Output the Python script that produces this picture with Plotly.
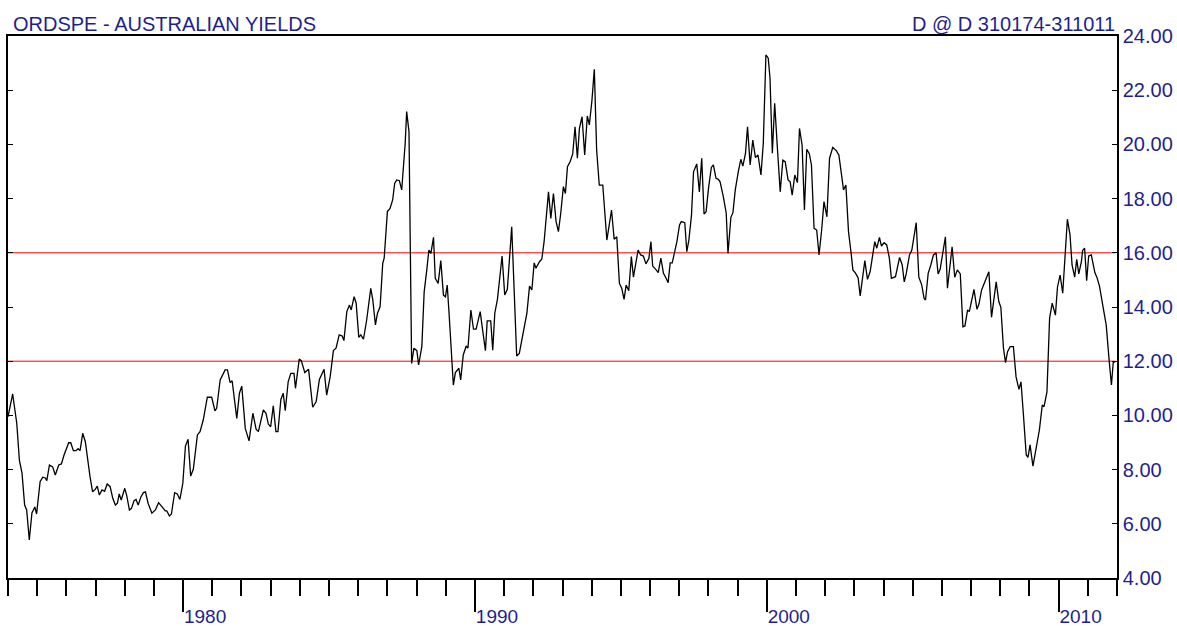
import plotly.graph_objects as go

# ---- data (decimal years, yield %) ----
dates_74_80 = [1974.00,1974.16,1974.30,1974.39,1974.48,1974.57,1974.64,1974.73,1974.82,1974.92,
 1974.98,1975.10,1975.19,1975.28,1975.33,1975.42,1975.53,1975.62,1975.74,1975.83,
 1975.92,1976.01,1976.08,1976.15,1976.24,1976.33,1976.40,1976.47,1976.56,1976.65,
 1976.74,1976.81,1976.90,1976.99,1977.06,1977.13,1977.22,1977.31,1977.40,1977.50,
 1977.59,1977.68,1977.75,1977.81,1977.88,1978.00,1978.07,1978.16,1978.23,1978.32,
 1978.39,1978.46,1978.55,1978.64,1978.71,1978.80,1978.93,1979.05,1979.16,1979.28,
 1979.39,1979.44,1979.53,1979.60,1979.71,1979.80,1979.89,1979.99,1980.08,1980.17,
 1980.26,1980.35,1980.49,1980.58]
yields_74_80 = [9.95,10.79,9.71,8.35,7.87,6.69,6.51,5.40,6.40,6.62,
 6.36,7.55,7.72,7.69,7.59,8.17,8.10,7.80,8.17,8.21,
 8.54,8.76,8.99,8.99,8.70,8.70,8.77,8.70,9.34,9.03,
 8.17,7.74,7.18,7.27,7.39,7.06,7.25,7.20,7.47,7.37,
 6.94,6.69,6.76,7.10,6.88,7.31,7.03,6.51,6.57,6.85,
 6.90,6.69,6.98,7.15,7.18,6.76,6.39,6.51,6.78,6.61,
 6.48,6.48,6.29,6.36,7.15,7.10,6.90,7.49,8.87,9.12,
 7.76,8.01,9.28,9.40]

dates_80_85 = [1980.69,1980.83,1980.98,1981.09,1981.15,1981.27,1981.44,1981.52,1981.61,1981.68,
 1981.84,1981.93,1982.01,1982.13,1982.26,1982.39,1982.50,1982.58,1982.75,1982.84,
 1982.92,1983.00,1983.09,1983.18,1983.25,1983.35,1983.43,1983.50,1983.60,1983.69,
 1983.80,1983.85,1983.98,1984.05,1984.17,1984.30,1984.44,1984.56,1984.67,1984.83,
 1984.92,1985.04]
yields_80_85 = [9.83,10.67,10.67,10.17,10.26,11.31,11.68,11.68,11.21,11.28,
 9.89,10.82,11.08,9.52,9.06,10.08,9.49,9.40,10.20,10.08,
 9.68,9.58,10.35,9.40,9.40,10.59,10.82,10.17,11.24,11.55,
 11.55,11.00,12.08,12.02,11.58,11.70,10.30,10.51,11.33,11.70,
 10.75,11.43]

dates_85_90 = [1985.15,1985.24,1985.35,1985.45,1985.51,1985.61,1985.70,1985.76,1985.86,1985.93,
 1986.02,1986.09,1986.18,1986.29,1986.43,1986.50,1986.59,1986.66,1986.75,1986.84,
 1986.89,1987.00,1987.09,1987.18,1987.25,1987.32,1987.41,1987.49,1987.61,1987.66,
 1987.74,1987.83,1987.91,1988.01,1988.07,1988.18,1988.26,1988.35,1988.42,1988.49,
 1988.58,1988.64,1988.74,1988.83,1988.92,1988.99,1989.05,1989.12,1989.19,1989.26,
 1989.33,1989.45,1989.51,1989.60,1989.70,1989.76,1989.86,1989.95,1990.04]
yields_85_90 = [12.39,12.48,12.97,12.93,12.76,13.83,14.07,13.89,14.38,14.14,
 12.88,12.97,12.81,13.52,14.69,14.26,13.34,13.77,14.01,15.61,
 15.80,17.52,17.64,17.95,18.56,18.69,18.66,18.32,20.04,21.21,
 20.47,11.92,12.48,12.39,11.86,12.54,14.56,15.37,16.10,15.98,
 16.57,15.06,14.87,15.71,14.44,14.38,14.81,13.64,12.29,11.12,
 11.58,11.74,11.31,12.23,12.56,12.48,13.89,13.18,13.18]

dates_90_94 = [1990.18,1990.27,1990.36,1990.42,1990.54,1990.61,1990.68,1990.77,1990.93,1991.02,
 1991.11,1991.26,1991.43,1991.52,1991.68,1991.78,1991.87,1991.95,1992.03,1992.09,
 1992.21,1992.29,1992.37,1992.44,1992.52,1992.60,1992.69,1992.78,1992.86,1992.94,
 1993.03,1993.10,1993.17,1993.26,1993.35,1993.43,1993.51,1993.58,1993.67,1993.76,
 1993.85,1993.92,1994.01,1994.09,1994.17,1994.26]
yields_90_94 = [13.83,13.09,12.39,13.49,13.49,12.41,13.77,14.28,15.88,14.44,
 14.65,16.96,12.19,12.29,13.15,13.77,14.77,14.63,15.63,15.43,
 15.67,15.76,16.41,17.21,18.25,17.27,18.19,17.15,16.78,17.46,
 18.44,18.19,19.18,19.36,19.65,20.65,19.49,20.59,21.02,19.61,
 21.05,20.72,21.64,22.77,19.79,18.50]

dates_94_98 = [1994.38,1994.52,1994.68,1994.77,1994.86,1994.95,1995.03,1995.11,1995.18,1995.27,
 1995.36,1995.43,1995.59,1995.68,1995.77,1995.86,1995.96,1996.03,1996.09,1996.21,
 1996.28,1996.37,1996.46,1996.55,1996.62,1996.69,1996.76,1996.82,1996.92,1997.01,
 1997.07,1997.19,1997.26,1997.33,1997.42,1997.49,1997.60,1997.69,1997.77,1997.85,
 1997.92,1998.01,1998.10,1998.17,1998.26,1998.34]
yields_94_98 = [18.50,16.47,17.58,16.50,16.59,14.87,14.69,14.28,14.81,14.60,
 15.86,15.10,16.10,15.92,15.88,15.59,15.80,16.41,15.51,15.37,
 15.27,15.80,15.24,15.06,14.90,15.63,15.63,15.92,16.41,17.03,
 17.15,17.11,16.04,16.47,17.39,18.99,19.28,18.25,19.49,17.43,
 17.52,18.44,19.15,19.24,18.75,18.71]

dates_98_03 = [1998.40,1998.51,1998.61,1998.67,1998.77,1998.84,1998.92,1999.03,1999.11,1999.18,
 1999.27,1999.34,1999.43,1999.52,1999.61,1999.70,1999.80,1999.88,1999.97,2000.05,
 2000.11,2000.19,2000.27,2000.36,2000.46,2000.55,2000.63,2000.73,2000.80,2000.87,
 2000.96,2001.05,2001.12,2001.21,2001.29,2001.37,2001.46,2001.53,2001.62,2001.71,
 2001.79,2001.88,2001.96,2002.06,2002.15,2002.26,2002.38,2002.47,2002.56,2002.63,
 2002.71,2002.80,2002.89,2002.95]
yields_98_03 = [18.62,18.07,17.46,15.98,17.31,17.48,18.32,19.03,19.45,19.20,
 19.67,20.65,19.24,20.16,19.52,19.61,18.87,20.04,23.30,23.18,
 22.44,19.67,21.52,19.92,18.25,19.42,19.36,18.69,18.62,18.13,
 18.87,18.59,20.59,19.98,17.58,19.82,19.65,19.24,16.90,16.84,
 15.92,16.84,17.89,17.33,19.49,19.89,19.77,19.61,18.93,18.32,
 18.50,16.78,15.98,15.37]

dates_03_06 = [2003.04,2003.13,2003.20,2003.29,2003.36,2003.45,2003.54,2003.63,2003.70,2003.77,
 2003.86,2003.93,2004.02,2004.11,2004.20,2004.27,2004.41,2004.55,2004.64,2004.71,
 2004.78,2004.89,2004.97,2005.12,2005.21,2005.31,2005.39,2005.44,2005.53,2005.62,
 2005.71,2005.80,2005.87,2005.94,2006.03,2006.12,2006.19,2006.28,2006.35,2006.44,
 2006.53,2006.63]
yields_03_06 = [15.25,15.07,14.41,15.06,15.71,15.02,15.30,15.92,16.41,16.17,
 16.57,16.25,16.37,16.29,15.80,15.06,15.12,15.83,15.55,14.93,
 15.24,15.92,16.10,17.11,15.10,14.81,14.32,14.26,15.24,15.55,
 15.92,16.00,15.22,15.39,16.00,16.59,14.69,15.67,16.22,15.10,
 15.37,15.22]

dates_06_11 = [2006.72,2006.79,2006.88,2006.94,2007.04,2007.10,2007.20,2007.27,2007.36,2007.45,
 2007.54,2007.61,2007.70,2007.79,2007.86,2007.95,2008.02,2008.11,2008.18,2008.25,
 2008.34,2008.45,2008.54,2008.64,2008.71,2008.79,2008.89,2008.95,2009.02,2009.12,
 2009.23,2009.34,2009.44,2009.50,2009.60,2009.69,2009.78,2009.89,2009.96,2010.05,
 2010.14,2010.21,2010.30,2010.39,2010.46,2010.55,2010.62,2010.69,2010.78,2010.82,
 2010.89,2010.96,2011.03,2011.12,2011.24,2011.31,2011.40,2011.52,2011.63,2011.74,
 2011.81,2011.87,2011.94]
yields_06_11 = [13.27,13.30,13.89,13.83,14.38,14.65,13.92,14.11,14.63,14.90,
 15.14,15.30,13.62,14.38,14.93,14.20,13.99,12.48,11.95,12.35,
 12.54,12.54,11.43,10.96,11.24,10.08,8.54,8.45,8.91,8.13,
 8.82,9.46,10.38,10.32,10.87,13.58,14.14,13.70,14.73,15.18,
 14.51,15.88,17.24,16.66,15.55,15.10,15.76,15.22,15.67,16.08,
 16.17,14.97,15.88,15.92,15.27,15.10,14.77,14.01,13.34,11.92,
 11.12,11.95,11.99]

reference_levels = [16.0, 12.0]
title_left = "ORDSPE - AUSTRALIAN YIELDS"
title_right = "D @ D 310174-311011"

dates = (dates_74_80 + dates_80_85 + dates_85_90 + dates_90_94 + dates_94_98
         + dates_98_03 + dates_03_06 + dates_06_11)
yields = (yields_74_80 + yields_80_85 + yields_85_90 + yields_90_94 + yields_94_98
          + yields_98_03 + yields_03_06 + yields_06_11)

NAVY = "#1f1f8c"
FONT = "Liberation Sans, Arial, sans-serif"

fig = go.Figure()
for lvl in reference_levels:
    fig.add_trace(go.Scatter(x=[dates[0], dates[-1]], y=[lvl, lvl], mode="lines",
                             line=dict(color="#ff0000", width=1), hoverinfo="skip",
                             showlegend=False))
fig.add_trace(go.Scatter(x=dates, y=yields, mode="lines",
                         line=dict(color="black", width=1.3), showlegend=False))

fig.update_layout(
    width=1177, height=626,
    margin=dict(l=8, r=60, t=36, b=48),
    paper_bgcolor="white", plot_bgcolor="white",
    font=dict(family=FONT, size=20, color=NAVY),
    xaxis=dict(range=[1974, 2012], tickmode="linear", tick0=1980, dtick=10,
               ticks="outside", ticklen=32, tickwidth=1.5, tickcolor="black",
               showgrid=False, zeroline=False, showline=True, linecolor="black",
               linewidth=1.5, mirror=True, automargin=False,
               tickfont=dict(family=FONT, size=19, color=NAVY),
               ticklabelshift=22, ticklabelstandoff=-12,
               minor=dict(tick0=1974, dtick=1, ticks="outside", ticklen=16,
                          tickwidth=1.5, tickcolor="black", showgrid=False)),
    yaxis=dict(range=[4, 24], tickmode="linear", tick0=4, dtick=2, tickformat=".2f",
               side="right", ticks="inside", ticklen=5, tickwidth=1.2, tickcolor="black",
               showgrid=False, zeroline=False, showline=True, linecolor="black",
               linewidth=1.5, mirror="ticks", automargin=False,
               tickfont=dict(family=FONT, size=20, color=NAVY)),
    annotations=[
        dict(text=title_left, xref="paper", yref="paper", x=0, y=1, xanchor="left",
             yanchor="bottom", xshift=3, yshift=-1, showarrow=False,
             font=dict(family=FONT, size=20, color=NAVY)),
        dict(text=title_right, xref="paper", yref="paper", x=1, y=1, xanchor="right",
             yanchor="bottom", xshift=0, yshift=-1, showarrow=False,
             font=dict(family=FONT, size=20, color=NAVY)),
    ],
)

fig.write_html("out.html")
